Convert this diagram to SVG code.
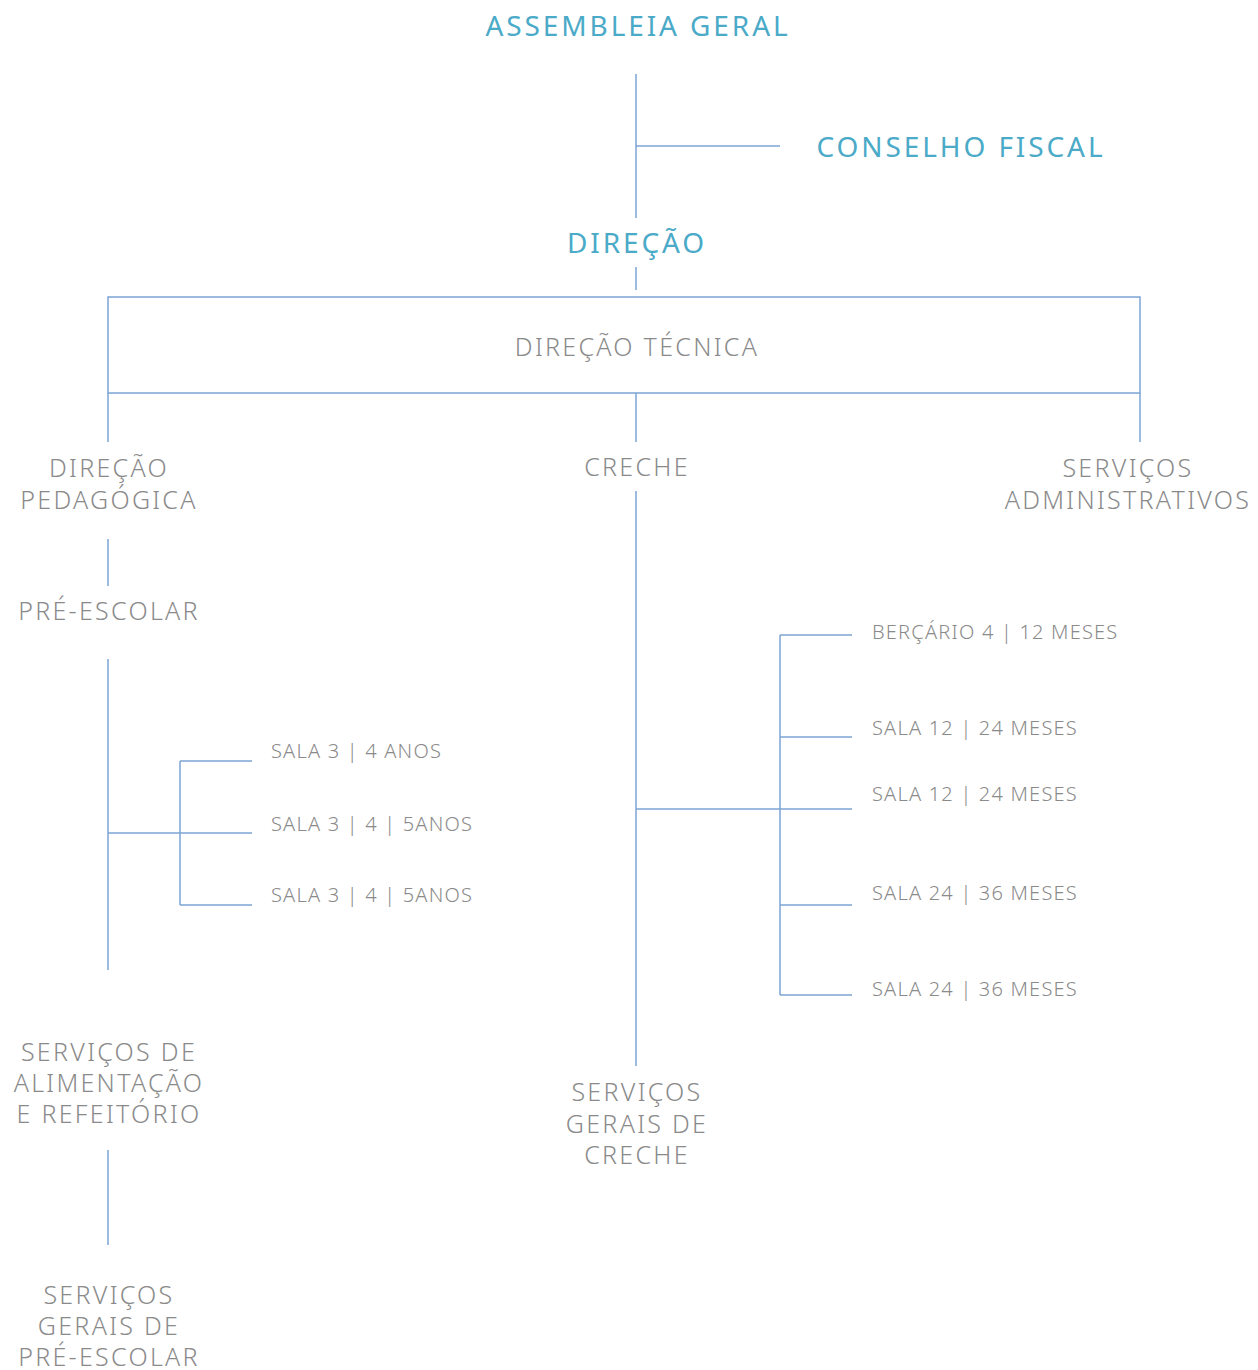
<svg xmlns="http://www.w3.org/2000/svg" width="1258" height="1370" viewBox="0 0 1258 1370">
<style>
.h{font-family:"Noto Sans","Liberation Sans",sans-serif;font-size:28px;fill:#4aaac8;letter-spacing:2.9px;text-anchor:middle}
.t{font-family:"Noto Sans","Liberation Sans",sans-serif;font-weight:300;font-size:25px;fill:#8a8a8a;letter-spacing:2.3px;text-anchor:middle}
.s{font-family:"Noto Sans","Liberation Sans",sans-serif;font-weight:300;font-size:20px;fill:#8a8a8a;letter-spacing:1.2px}
.c line,.c rect{stroke:#7ba4d4;stroke-width:1.5;fill:none}
</style>
<rect width="1258" height="1370" fill="#fff"/>
<g class="c" id="connectors">
<line x1="636" y1="74" x2="636" y2="218"/>
<line x1="636" y1="146" x2="780" y2="146"/>
<line x1="636" y1="267" x2="636" y2="290"/>
<rect x="108" y="297" width="1032" height="96"/>
<line x1="108" y1="393" x2="108" y2="442"/>
<line x1="636" y1="393" x2="636" y2="442"/>
<line x1="1140" y1="393" x2="1140" y2="442"/>
<line x1="108" y1="539" x2="108" y2="586"/>
<line x1="108" y1="659" x2="108" y2="970"/>
<line x1="108" y1="833" x2="252" y2="833"/>
<line x1="180" y1="761" x2="180" y2="905"/>
<line x1="180" y1="761" x2="252" y2="761"/>
<line x1="180" y1="905" x2="252" y2="905"/>
<line x1="636" y1="491" x2="636" y2="1066"/>
<line x1="636" y1="809" x2="852" y2="809"/>
<line x1="780" y1="635" x2="780" y2="995"/>
<line x1="780" y1="635" x2="852" y2="635"/>
<line x1="780" y1="737" x2="852" y2="737"/>
<line x1="780" y1="905" x2="852" y2="905"/>
<line x1="780" y1="995" x2="852" y2="995"/>
<line x1="108" y1="1150" x2="108" y2="1245"/>
</g>
<g id="assembleia"><text class="h" x="638" y="36">ASSEMBLEIA GERAL</text></g>
<g id="conselho"><text class="h" x="961" y="157">CONSELHO FISCAL</text></g>
<g id="direcao"><text class="h" x="637" y="253">DIREÇÃO</text></g>
<g id="direcao-tecnica"><text class="t" x="637" y="356">DIREÇÃO TÉCNICA</text></g>
<g id="direcao-pedagogica"><text class="t" x="109" y="477">DIREÇÃO</text><text class="t" x="109" y="509">PEDAGÓGICA</text></g>
<g id="creche"><text class="t" x="637" y="476">CRECHE</text></g>
<g id="servicos-admin"><text class="t" x="1128" y="477">SERVIÇOS</text><text class="t" x="1128" y="509">ADMINISTRATIVOS</text></g>
<g id="pre-escolar"><text class="t" x="109" y="620">PRÉ-ESCOLAR</text></g>
<g id="sala1"><text class="s" x="271" y="758">SALA 3 | 4 ANOS</text></g>
<g id="sala2"><text class="s" x="271" y="831">SALA 3 | 4 | 5ANOS</text></g>
<g id="sala3"><text class="s" x="271" y="902">SALA 3 | 4 | 5ANOS</text></g>
<g id="bercario"><text class="s" x="872" y="639">BERÇÁRIO 4 | 12 MESES</text></g>
<g id="sala12a"><text class="s" x="872" y="735">SALA 12 | 24 MESES</text></g>
<g id="sala12b"><text class="s" x="872" y="801">SALA 12 | 24 MESES</text></g>
<g id="sala24a"><text class="s" x="872" y="900">SALA 24 | 36 MESES</text></g>
<g id="sala24b"><text class="s" x="872" y="996">SALA 24 | 36 MESES</text></g>
<g id="servicos-alimentacao"><text class="t" x="109" y="1061">SERVIÇOS DE</text><text class="t" x="109" y="1092">ALIMENTAÇÃO</text><text class="t" x="109" y="1123">E REFEITÓRIO</text></g>
<g id="servicos-gerais-creche"><text class="t" x="637" y="1101">SERVIÇOS</text><text class="t" x="637" y="1133">GERAIS DE</text><text class="t" x="637" y="1164">CRECHE</text></g>
<g id="servicos-gerais-pre"><text class="t" x="109" y="1304">SERVIÇOS</text><text class="t" x="109" y="1335">GERAIS DE</text><text class="t" x="109" y="1366">PRÉ-ESCOLAR</text></g>
</svg>
